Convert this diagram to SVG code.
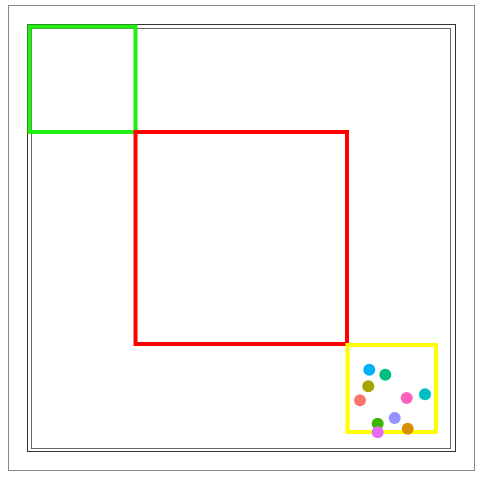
<svg xmlns="http://www.w3.org/2000/svg" width="480" height="480" viewBox="0 0 480 480">
<style>
.frame{fill:none}
.box{fill:none;stroke-width:4}
.dot{stroke:none}
</style>
<rect width="480" height="480" fill="#ffffff"/>
<g id="frames">
<rect class="frame" x="8.5" y="5.5" width="466" height="465" stroke="#888888"/>
<rect class="frame" x="27.5" y="24.5" width="428" height="427" stroke="#333333"/>
<rect class="frame" x="31.5" y="28.5" width="419" height="420" stroke="#666666"/>
</g>
<g id="connectors"></g>
<g id="green-box"><rect class="box" x="29.5" y="26.5" width="106" height="105.5" stroke="#22ee11"/></g>
<g id="red-box"><rect class="box" x="135.5" y="132" width="211.5" height="212" stroke="#ff0000"/></g>
<g id="yellow-box"><rect class="box" x="347.5" y="345" width="88.5" height="87" stroke="#ffff00"/></g>
<g id="dots">
<circle class="dot" cx="369.3" cy="369.7" r="6" fill="#00B0F6"/>
<circle class="dot" cx="385.3" cy="374.7" r="6" fill="#00BF7D"/>
<circle class="dot" cx="368.3" cy="386.3" r="6" fill="#A3A500"/>
<circle class="dot" cx="360" cy="400.3" r="6" fill="#F8766D"/>
<circle class="dot" cx="406.7" cy="398" r="6" fill="#FF62BC"/>
<circle class="dot" cx="425" cy="394.3" r="6" fill="#00BFC4"/>
<circle class="dot" cx="394.7" cy="418" r="6" fill="#9590FF"/>
<circle class="dot" cx="377.7" cy="423.7" r="6" fill="#39B600"/>
<circle class="dot" cx="377.7" cy="432.3" r="6" fill="#E76BF3"/>
<circle class="dot" cx="407.7" cy="428.7" r="6" fill="#D89000"/>
</g>
</svg>
